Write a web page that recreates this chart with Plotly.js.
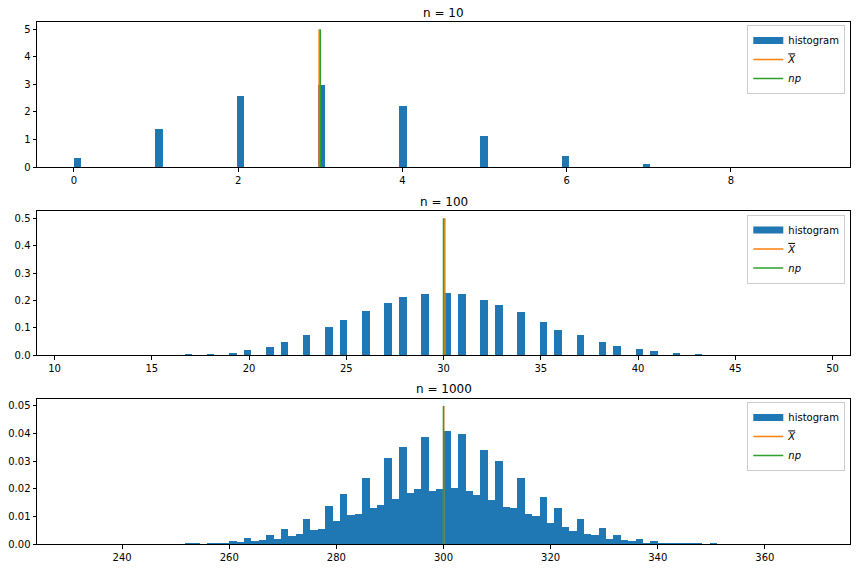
<!DOCTYPE html>
<html>
<head>
<meta charset="utf-8">
<script src="https://cdn.plot.ly/plotly-3.0.1.min.js"></script>
<style>html,body{margin:0;padding:0;background:#fff;}</style>
</head>
<body>
<div id="chart" style="width:856px;height:568px;"></div>
<script>
// ---- data ----
const titles = ["n = 10", "n = 100", "n = 1000"];
const trialsN = [10, 100, 1000];
const binCount = 100;

// n = 10 : outcomes and histogram density (100 bins over [0, 9])
const n10Range = [0, 9];
const n10Outcomes = [0, 1, 2, 3, 4, 5, 6, 7, 8, 9];
const n10Density = [0.327, 1.38, 2.58, 2.98, 2.22, 1.13, 0.41, 0.11, 0.015, 0.002];

// n = 100 : outcomes and histogram density (100 bins over [11, 49])
const n100Range = [11, 49];
const n100Outcomes = [11,12,13,14,15,16,17,18,19,20,21,22,23,24,25,26,27,28,29,30,
                      31,32,33,34,35,36,37,38,39,40,41,42,43,44,45,46,47,48,49];
const n100Density = [0.0003,0,0,0.0003,0.0005,0.001,0.005,0.005,0.0085,0.0195,0.030,0.049,0.074,0.104,0.129,0.162,0.191,0.213,0.224,0.228,
                     0.224,0.202,0.184,0.159,0.122,0.093,0.074,0.049,0.034,0.023,0.016,0.0085,0.005,0.002,0.001,0.0005,0.0003,0,0.0003];

// n = 1000 : density per bin (100 bins over [231, 369])
const n1000Range = [231, 369];
const n1000Density = [
  0.00007,0,0,0,0,0,0,0,0,0,
  0,0,0,0,0,0.0003,0.0003,0,0.0003,0.0003,
  0.0004,0.0011,0.0007,0.0022,0.0011,0.0015,0.0033,0.0018,0.0055,0.0029,
  0.0036,0.0091,0.0051,0.0055,0.0138,0.0084,0.0182,0.0106,0.0109,0.0240,
  0.0131,0.0142,0.0313,0.0164,0.0350,0.0186,0.0200,0.0386,0.0193,0.0200,
  0.0408,0.0204,0.0400,0.0193,0.0178,0.0339,0.0160,0.0299,0.0135,0.0131,
  0.0240,0.0109,0.0102,0.0171,0.0076,0.0131,0.0062,0.0047,0.0091,0.0036,
  0.0033,0.0058,0.0018,0.0033,0.0015,0.0011,0.0018,0.0004,0.0011,0.0004,
  0.0003,0.0003,0.0003,0.0002,0.0002,0,0.0004,0,0,0,
  0,0,0,0,0,0,0,0,0,0.00007
];

// sample means and np
const sampleMean = [2.985, 30.07, 300.03];
const npValue = [3, 30, 300];
const vlineTop = [5, 0.5, 0.05];

// ---- build ----
const C_BAR = '#1f77b4', C_MEAN = '#ff7f0e', C_NP = '#2ca02c';
const FONT = 'DejaVu Sans, sans-serif';

function binsFromOutcomes(range, outcomes, dens) {
  const w = (range[1] - range[0]) / binCount;
  const x = [], y = [];
  outcomes.forEach((k, i) => {
    let idx = Math.floor((k - range[0]) / w + 1e-9);
    if (idx >= binCount) idx = binCount - 1;
    x.push(range[0] + (idx + 0.5) * w);
    y.push(dens[i]);
  });
  return {x, y, w};
}
function binsFromDensity(range, dens) {
  const w = (range[1] - range[0]) / binCount;
  return {x: dens.map((_, i) => range[0] + (i + 0.5) * w), y: dens, w};
}

const hists = [
  binsFromOutcomes(n10Range, n10Outcomes, n10Density),
  binsFromOutcomes(n100Range, n100Outcomes, n100Density),
  binsFromDensity(n1000Range, n1000Density)
];
const ranges = [n10Range, n100Range, n1000Range];

const traces = [];
const legendNames = ['legend', 'legend2', 'legend3'];
hists.forEach((h, i) => {
  const ax = i === 0 ? '' : String(i + 1);
  const lg = legendNames[i];
  traces.push({
    type: 'bar', x: h.x, y: h.y, width: h.x.map(() => h.w),
    marker: {color: C_BAR, line: {width: 0}},
    xaxis: 'x' + ax, yaxis: 'y' + ax, name: 'histogram', showlegend: false,
    legend: lg, hoverinfo: 'skip'
  });
  // legend entry for histogram (wide patch like the reference)
  traces.push({
    type: 'scatter', mode: 'lines', x: [null], y: [null],
    line: {color: C_BAR, width: 7}, name: 'histogram',
    xaxis: 'x' + ax, yaxis: 'y' + ax, legend: lg, showlegend: true
  });
  traces.push({
    type: 'scatter', mode: 'lines', x: [sampleMean[i], sampleMean[i]], y: [0, vlineTop[i]],
    line: {color: C_MEAN, width: 1.5},
    name: '<span style="text-decoration:overline"><i>X</i></span>',
    xaxis: 'x' + ax, yaxis: 'y' + ax, legend: lg
  });
  traces.push({
    type: 'scatter', mode: 'lines', x: [npValue[i], npValue[i]], y: [0, vlineTop[i]],
    line: {color: C_NP, width: 1.5}, name: '<i>np</i>',
    xaxis: 'x' + ax, yaxis: 'y' + ax, legend: lg
  });
});

const H = 568, mt = 22, mb = 24, plotH = H - mt - mb;
function py(pix) { return (H - mb - pix) / plotH; }
const domains = [[py(167), py(22.3)], [py(355.3), py(211.3)], [py(544), py(399)]];
const ytickfmt = ['d', '.1f', '.2f'];
const xdt = [2, 5, 20];
const titleY = [13, 201.7, 389.3];
const legendTop = [25, 214.5, 402];

const layout = {
  width: 856, height: 568,
  margin: {l: 37, r: 6, t: mt, b: mb},
  paper_bgcolor: '#fff', plot_bgcolor: '#fff',
  font: {family: FONT, size: 10, color: '#000'},
  barmode: 'overlay', bargap: 0,
  showlegend: true,
  annotations: [],
  hovermode: false
};
for (let i = 0; i < 3; i++) {
  const ax = i === 0 ? '' : String(i + 1);
  const r = ranges[i], pad = 0.05 * (r[1] - r[0]);
  const ymax = vlineTop[i] * 1.05;
  layout['xaxis' + ax] = {
    domain: [0, 1], anchor: 'y' + ax, range: [r[0] - pad, r[1] + pad],
    dtick: xdt[i], tick0: 0, ticks: 'outside', ticklen: 3.5, tickwidth: 1, tickcolor: '#000',
    showline: true, mirror: true, linecolor: '#000', linewidth: 1, showgrid: false, zeroline: false,
    tickfont: {family: FONT, size: 10, color: '#000'}
  };
  layout['yaxis' + ax] = {
    domain: domains[i], anchor: 'x' + ax, range: [0, ymax],
    dtick: vlineTop[i] / 5, tickformat: ytickfmt[i], ticks: 'outside', ticklen: 3.5, tickwidth: 1, tickcolor: '#000',
    showline: true, mirror: true, linecolor: '#000', linewidth: 1, showgrid: false, zeroline: false,
    tickfont: {family: FONT, size: 10, color: '#000'}
  };
  layout[legendNames[i]] = {
    x: (845.3 - 37) / 813, xanchor: 'right', y: py(legendTop[i]), yanchor: 'top',
    bgcolor: 'rgba(255,255,255,0.8)', bordercolor: '#cccccc', borderwidth: 1,
    font: {family: FONT, size: 10, color: '#000'}, itemwidth: 30, tracegroupgap: 0
  };
  layout.annotations.push({
    text: titles[i], xref: 'paper', yref: 'paper', x: 0.5, y: py(titleY[i]),
    xanchor: 'center', yanchor: 'middle', showarrow: false,
    font: {family: FONT, size: 12, color: '#000'}
  });
}

Plotly.newPlot('chart', traces, layout, {staticPlot: true, displayModeBar: false});
</script>
</body>
</html>
